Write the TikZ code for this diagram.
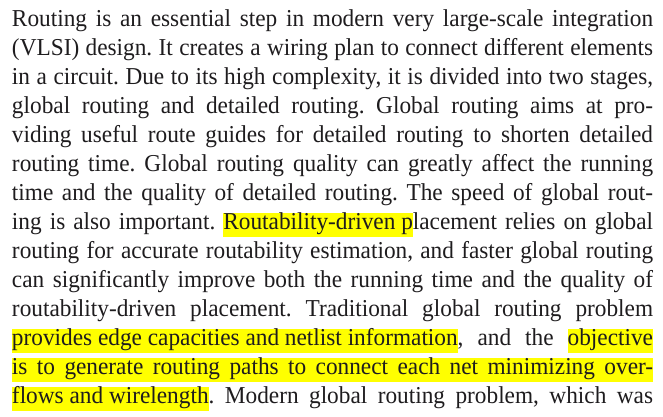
\documentclass[tikz,border=0pt]{standalone}
\usepackage{fontspec}
\setmainfont[FakeStretch=0.96]{Liberation Serif}
\usetikzlibrary{positioning}
\definecolor{hlyellow}{RGB}{255,255,0}
\definecolor{inkdark}{RGB}{30,28,30}
\frenchspacing
\newcommand\justline[1]{\makebox[240.4pt][s]{#1}}
\newcommand\hlword[1]{{\setlength\fboxsep{0pt}\colorbox{hlyellow}{\rule[-2.8pt]{0pt}{9.2pt}#1}}}

\begin{document}
\begin{tikzpicture}[ -, x=0.375pt, y=0.375pt, node distance = 0pt,
                    auto, line/.style = {inner sep=0pt, outer sep=0pt, text height=7.5pt, text depth=3.375pt,
                    font=\fontsize{9.1pt}{10.875pt}\selectfont\frenchspacing, text=inkdark}]
\useasboundingbox (0,0) rectangle (663,-417);
    \node[line, anchor=north west] (1) at (12,-7) {\justline{Routing is an essential step in modern very large-scale integration}};
\node[line, below= of 1] (2)  {\justline{(VLSI) design. It creates a wiring plan to connect different elements}};
\node[line, below= of 2] (3)  {\justline{in a circuit. Due to its high complexity, it is divided into two stages,}};
\node[line, below= of 3] (4)  {\justline{global routing and detailed routing. Global routing aims at pro-}};
\node[line, below= of 4] (5)  {\justline{viding useful route guides for detailed routing to shorten detailed}};
\node[line, below= of 5] (6)  {\justline{routing time. Global routing quality can greatly affect the running}};
\node[line, below= of 6] (7)  {\justline{time and the quality of detailed routing. The speed of global rout-}};
\node[line, below= of 7] (8)  {\justline{ing is also important. \hlword{Routability-driven p}lacement relies on global}};
\node[line, below= of 8] (9)  {\justline{routing for accurate routability estimation, and faster global routing}};
\node[line, below= of 9] (10) {\justline{can significantly improve both the running time and the quality of}};
\node[line, below= of 10] (11) {\justline{routability-driven placement. Traditional global routing problem}};
\node[line, below= of 11] (12) {\justline{\hlword{provides edge capacities and netlist information}, and the \hlword{objective}}};
\node[line, below= of 12] (13) {\hlword{\justline{is to generate routing paths to connect each net minimizing over-}}};
\node[line, below= of 13] (14) {\justline{\hlword{flows and wirelength}. Modern global routing problem, which was}};
\end{tikzpicture}
\end{document}
